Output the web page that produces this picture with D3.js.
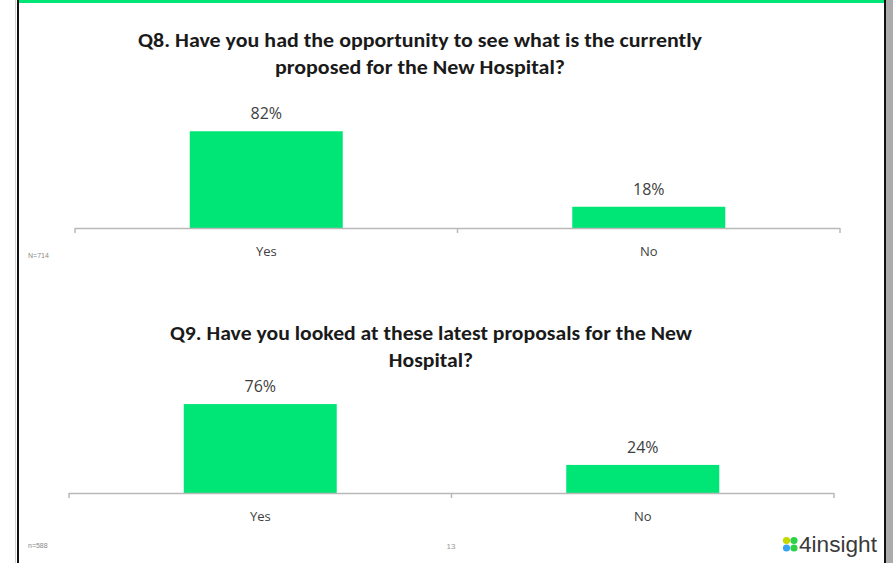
<!DOCTYPE html>
<html>
<head>
<meta charset="utf-8">
<script src="https://cdn.jsdelivr.net/npm/d3@7"></script>
<style>
  body { margin: 0; background: #fff; }
  svg { display: block; }
</style>
</head>
<body>
<svg width="893" height="563"></svg>
<script>
// data
var categories = ["Yes", "No"];
var q8Values = [82, 18];
var q9Values = [76, 24];
var q8Title = ["Q8. Have you had the opportunity to see what is the currently", "proposed for the New Hospital?"];
var q9Title = ["Q9. Have you looked at these latest proposals for the New", "Hospital?"];
var q8Note = "N=714";
var q9Note = "n=588";
var pageNumber = "13";

var barColor = "#00e676";
var textColor = "#404040";

var svg = d3.select("svg");

// slide frame
svg.append("rect").attr("x", 886).attr("y", 0).attr("width", 7).attr("height", 563).attr("fill", "#ababab");
svg.append("rect").attr("x", 15).attr("y", 0).attr("width", 1).attr("height", 563).attr("fill", "#d0d0d0");
svg.append("rect").attr("x", 17).attr("y", 0).attr("width", 2).attr("height", 563).attr("fill", "#111");
svg.append("rect").attr("x", 884).attr("y", 0).attr("width", 2).attr("height", 563).attr("fill", "#111");
svg.append("rect").attr("x", 19).attr("y", 0).attr("width", 865).attr("height", 3).attr("fill", barColor);

function drawChart(values, title, opts) {
    var g = svg.append("g");

    var x = d3.scaleBand()
        .domain(categories)
        .range([opts.left, opts.right])
        .paddingInner(0.6)
        .paddingOuter(0.3);

    var y = d3.scaleLinear()
        .domain([0, 100])
        .range([opts.base, opts.base - opts.h100]);

    // title, stretched a bit to mimic the wider Calibri rendering
    var tt = g.selectAll(".title")
        .data(title)
        .enter()
        .append("text")
        .attr("x", opts.titleX)
        .attr("y", function(d, i) { return opts.titleY + i * 27; })
        .attr("text-anchor", "middle")
        .attr("font-family", "Carlito, 'Liberation Sans Narrow', 'Liberation Sans', sans-serif")
        .attr("font-weight", "bold")
        .attr("font-size", 20)
        .attr("fill", "#1a1a1a")
        .text(function(d) { return d; });
    var k = opts.titleWidth / tt.node().getComputedTextLength();
    tt.each(function() {
        var w = this.getComputedTextLength();
        d3.select(this).attr("textLength", w * k).attr("lengthAdjust", "spacingAndGlyphs");
    });

    g.selectAll(".bar")
        .data(values)
        .enter()
        .append("rect")
        .attr("x", function(d, i) { return x(categories[i]); })
        .attr("y", function(d) { return y(d); })
        .attr("width", x.bandwidth())
        .attr("height", function(d) { return y(0) - y(d); })
        .attr("fill", barColor);

    g.selectAll(".val")
        .data(values)
        .enter()
        .append("text")
        .attr("x", function(d, i) { return x(categories[i]) + x.bandwidth() / 2; })
        .attr("y", function(d) { return y(d) - 12; })
        .attr("text-anchor", "middle")
        .attr("font-family", "'Open Sans', sans-serif")
        .attr("font-size", 16)
        .attr("fill", textColor)
        .text(function(d) { return d + "%"; });

    // axis with ticks at band edges
    var axis = d3.axisBottom(x).tickSize(0).tickPadding(19);
    var ax = g.append("g")
        .attr("transform", "translate(0," + opts.base + ")")
        .call(axis);
    ax.select(".domain").remove();
    ax.selectAll("text")
        .attr("font-family", "'Open Sans', sans-serif")
        .attr("font-size", 13)
        .attr("fill", textColor);

    var edges = [opts.left, opts.left + x.step(), opts.right];
    g.append("line")
        .attr("x1", opts.left).attr("x2", opts.right)
        .attr("y1", opts.base + 0.5).attr("y2", opts.base + 0.5)
        .attr("stroke", "#b8b8b8").attr("stroke-width", 1.5);
    g.selectAll(".tk")
        .data(edges)
        .enter()
        .append("line")
        .attr("x1", function(d) { return d; })
        .attr("x2", function(d) { return d; })
        .attr("y1", opts.base)
        .attr("y2", opts.base + 5)
        .attr("stroke", "#b8b8b8").attr("stroke-width", 1.5);

    g.append("text")
        .attr("x", 28)
        .attr("y", opts.noteY)
        .attr("font-family", "'Liberation Sans', sans-serif")
        .attr("font-size", 7)
        .attr("fill", "#888")
        .text(opts.note);
}

drawChart(q8Values, q8Title, {
    left: 75, right: 840, base: 228, h100: 118,
    titleX: 420, titleY: 47, titleWidth: 564, noteY: 258, note: q8Note
});

drawChart(q9Values, q9Title, {
    left: 69, right: 834, base: 493, h100: 117,
    titleX: 431, titleY: 340, titleWidth: 522, noteY: 548, note: q9Note
});

// footer
svg.append("text")
    .attr("x", 451).attr("y", 549)
    .attr("text-anchor", "middle")
    .attr("font-family", "'Liberation Sans', sans-serif")
    .attr("font-size", 8)
    .attr("fill", "#999")
    .text(pageNumber);

var dotColors = ["#c6d700", "#2ed14a", "#3ba4f2", "#2ed14a"];
svg.selectAll(".dot")
    .data(dotColors)
    .enter()
    .append("circle")
    .attr("cx", function(d, i) { return 786.5 + (i % 2) * 7.5; })
    .attr("cy", function(d, i) { return 540.5 + Math.floor(i / 2) * 7.5; })
    .attr("r", 3.6)
    .attr("fill", function(d) { return d; });

svg.append("text")
    .attr("x", 799).attr("y", 552)
    .attr("font-family", "'Liberation Sans', sans-serif")
    .attr("font-size", 22)
    .attr("fill", "#3a3a3a")
    .attr("textLength", 78)
    .attr("lengthAdjust", "spacingAndGlyphs")
    .text("4insight");
</script>
</body>
</html>
